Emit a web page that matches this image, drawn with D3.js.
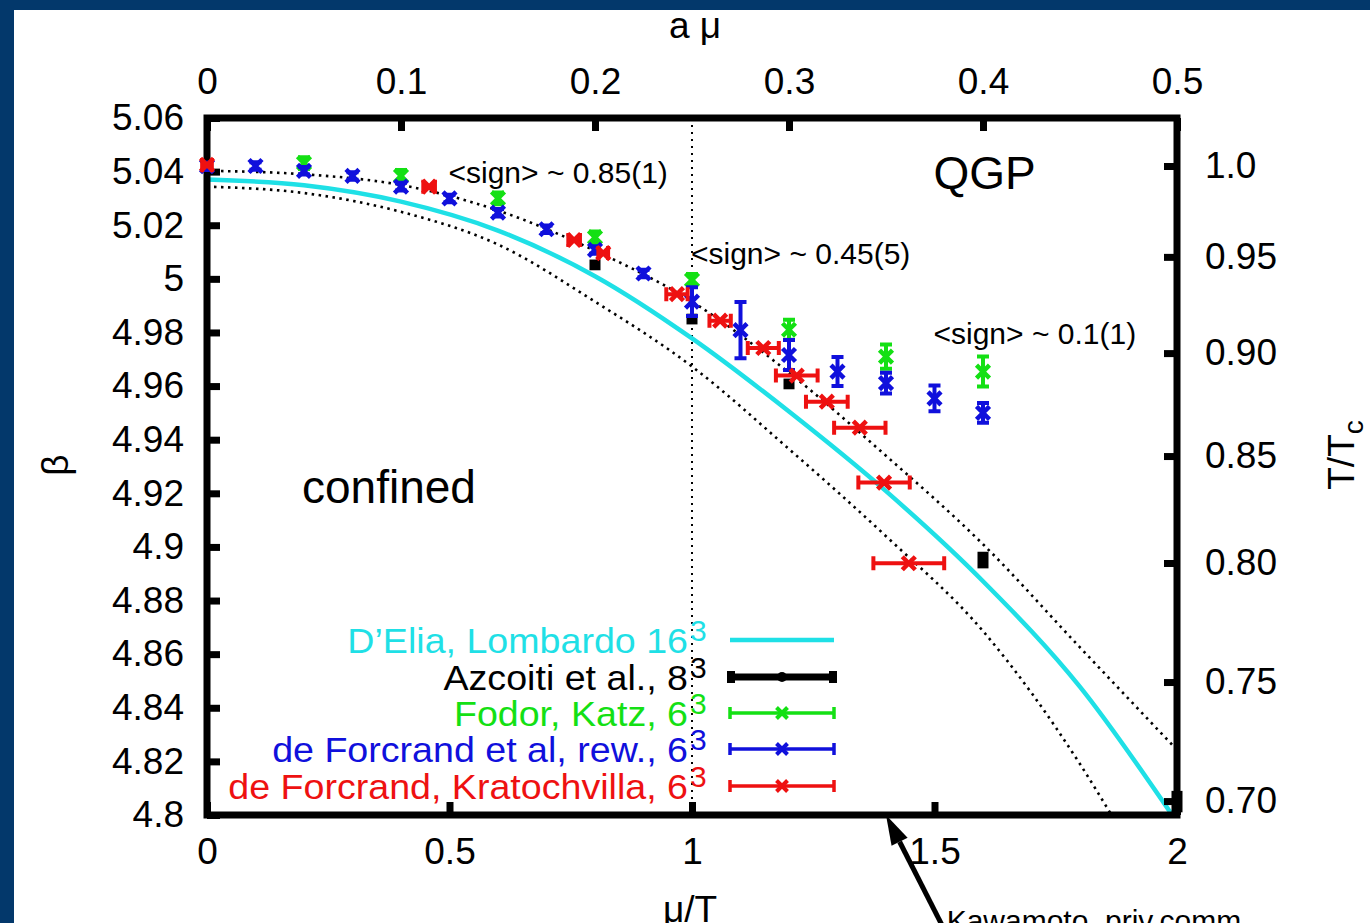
<!DOCTYPE html>
<html><head><meta charset="utf-8">
<script src="https://cdn.jsdelivr.net/npm/d3@7"></script>
<style>
body{margin:0;background:#fff}
svg{display:block}
text{font-family:"Liberation Sans",Arial,Helvetica,sans-serif}
</style>
</head><body>
<svg id="c" width="1370" height="923"></svg>
<script>
// ---------- data ----------
const xTicks = [0, 0.5, 1, 1.5, 2];
const xTickLabels = ["0", "0.5", "1", "1.5", "2"];
const topTicks = [0, 0.1, 0.2, 0.3, 0.4, 0.5];
const topTickLabels = ["0", "0.1", "0.2", "0.3", "0.4", "0.5"];
const yTicks = [5.06, 5.04, 5.02, 5.00, 4.98, 4.96, 4.94, 4.92, 4.90, 4.88, 4.86, 4.84, 4.82, 4.80];
const yTickLabels = ["5.06","5.04","5.02","5","4.98","4.96","4.94","4.92","4.9","4.88","4.86","4.84","4.82","4.8"];
const tTcLabels = ["1.0", "0.95", "0.90", "0.85", "0.80", "0.75", "0.70"];
const tTcBeta = [5.0421, 5.0082, 4.9723, 4.9339, 4.8940, 4.8496, 4.8052];

// D'Elia, Lombardo 16^3 (cyan curve)
const dlMu   = [0, 0.2, 0.4, 0.6, 0.8, 1.0, 1.2, 1.4, 1.6, 1.8, 1.99];
const dlBeta = [5.0371, 5.0349, 5.0288, 5.0180, 5.0010, 4.9778, 4.9505, 4.9208, 4.8872, 4.8478, 4.8000];
// dotted band
const upMu   = [0, 0.2, 0.4, 0.6, 0.8, 1.0, 1.2, 1.4, 1.6, 1.8, 2.0];
const upBeta = [5.0403, 5.0390, 5.0350, 5.0255, 5.0105, 4.9915, 4.9650, 4.9340, 4.9010, 4.8625, 4.8243];
const loMu   = [0, 0.2, 0.4, 0.6, 0.8, 1.0, 1.2, 1.4, 1.6, 1.8, 1.865];
const loBeta = [5.0344, 5.0320, 5.0250, 5.0128, 4.9915, 4.9673, 4.9365, 4.9040, 4.8686, 4.8190, 4.8000];

// Azcoiti et al., 8^3
const azMu   = [0.8, 1.0, 1.2, 1.6, 2.0];
const azBeta = [5.0052, 4.9850, 4.9608, 4.8951, 4.8050];
const azErr  = [0.0020, 0.0020, 0.0020, 0.0031, 0.0040];
// Fodor, Katz, 6^3
const fkMu   = [0.2, 0.4, 0.6, 0.8, 1.0, 1.2, 1.4, 1.6];
const fkBeta = [5.0432, 5.0384, 5.0300, 5.0155, 4.9996, 4.9810, 4.9710, 4.9654];
const fkErr  = [0.0022, 0.0022, 0.0022, 0.0022, 0.0022, 0.0037, 0.0045, 0.0056];
// de Forcrand et al, rew., 6^3
const dfMu   = [0, 0.1, 0.2, 0.3, 0.4, 0.5, 0.6, 0.7, 0.8, 0.9, 1.0, 1.1, 1.2, 1.3, 1.4, 1.5, 1.6];
const dfBeta = [5.0420, 5.0421, 5.0403, 5.0384, 5.0344, 5.0300, 5.0247, 5.0185, 5.0108, 5.0020,
                4.9915, 4.9809, 4.9716, 4.9654, 4.9611, 4.9554, 4.9500];
const dfErr  = [0.0014, 0.0014, 0.0014, 0.0014, 0.0014, 0.0014, 0.0014, 0.0014, 0.0014, 0.0014,
                0.0054, 0.0105, 0.0056, 0.0054, 0.0039, 0.0048, 0.0037];
// de Forcrand, Kratochvila, 6^3 (horizontal errors)
const dkMu   = [0, 0.458, 0.757, 0.817, 0.969, 1.058, 1.147, 1.216, 1.278, 1.346, 1.396, 1.447];
const dkBeta = [5.0425, 5.0344, 5.0145, 5.0096, 4.9943, 4.9844, 4.9742, 4.9639, 4.9542, 4.9445, 4.9240, 4.8939];
const dkErr  = [0.010, 0.012, 0.012, 0.010, 0.022, 0.022, 0.032, 0.043, 0.043, 0.053, 0.053, 0.073];

const legendLabels = ["D\u2019Elia, Lombardo 16", "Azcoiti et al., 8", "Fodor, Katz, 6", "de Forcrand et al, rew., 6", "de Forcrand, Kratochvilla, 6"];
const annotations = ["<sign> ~ 0.85(1)", "<sign> ~ 0.45(5)", "<sign> ~ 0.1(1)"];
const annMu = [0.5, 1.0, 1.5];
const annBeta = [5.0358, 5.0055, 4.9757];

// ---------- colours ----------
const CYAN = "#1fe0e6", BLACK = "#000", GREEN = "#14e014", BLUE = "#1010dc", RED = "#ee1111";

// ---------- setup ----------
const svg = d3.select("#c");
svg.append("rect").attr("width", 1370).attr("height", 923).attr("fill", "#03386b");
svg.append("rect").attr("x", 14).attr("y", 10).attr("width", 1356).attr("height", 913).attr("fill", "#fff");

const x = d3.scaleLinear().domain([0, 2]).range([207, 1177]);
const xTop = d3.scaleLinear().domain([0, 0.5]).range([207, 1177]);
const y = d3.scaleLinear().domain([4.8, 5.06]).range([815, 118]);

svg.append("defs").append("clipPath").attr("id", "clip")
  .append("rect").attr("x", x(0)).attr("y", y(5.06)).attr("width", x(2) - x(0)).attr("height", y(4.8) - y(5.06));

const FS = 37;

// vertical dotted line at mu/T = 1
svg.append("line").attr("x1", x(1)).attr("x2", x(1)).attr("y1", y(5.06)).attr("y2", y(4.8))
  .attr("stroke", "#000").attr("stroke-width", 2).attr("stroke-dasharray", "2,5");

// curves
const plotG = svg.append("g").attr("clip-path", "url(#clip)");
const lineGen = d3.line().x(d => x(d[0])).y(d => y(d[1])).curve(d3.curveMonotoneX);
plotG.append("path").datum(upMu.map((m, i) => [m, upBeta[i]])).attr("d", lineGen)
  .attr("fill", "none").attr("stroke", "#000").attr("stroke-width", 2.6).attr("stroke-dasharray", "2.5,4.5");
plotG.append("path").datum(loMu.map((m, i) => [m, loBeta[i]])).attr("d", lineGen)
  .attr("fill", "none").attr("stroke", "#000").attr("stroke-width", 2.6).attr("stroke-dasharray", "2.5,4.5");
plotG.append("path").datum(dlMu.map((m, i) => [m, dlBeta[i]])).attr("d", lineGen)
  .attr("fill", "none").attr("stroke", CYAN).attr("stroke-width", 4.5);

// ---------- axes ----------
function styleAxis(g) {
  g.select(".domain").remove();
  g.selectAll(".tick line").attr("stroke", "#000").attr("stroke-width", 7);
  g.selectAll(".tick text").attr("font-size", FS).attr("fill", "#000")
    .attr("font-family", "'Liberation Sans', Arial, sans-serif");
}
svg.append("g").attr("transform", `translate(${x(0)},0)`)
  .call(d3.axisLeft(y).tickValues(yTicks).tickFormat((d, i) => yTickLabels[i]).tickSizeInner(-13).tickSizeOuter(0).tickPadding(23))
  .call(styleAxis);
svg.append("g").attr("transform", `translate(${x(2)},0)`)
  .call(d3.axisRight(y).tickValues(tTcBeta).tickFormat((d, i) => tTcLabels[i]).tickSizeInner(-13).tickSizeOuter(0).tickPadding(28))
  .call(styleAxis);
svg.append("g").attr("transform", `translate(0,${y(4.8)})`)
  .call(d3.axisBottom(x).tickValues(xTicks).tickFormat((d, i) => xTickLabels[i]).tickSizeInner(-13).tickSizeOuter(0).tickPadding(23))
  .call(styleAxis);
svg.append("g").attr("transform", `translate(0,${y(5.06)})`)
  .call(d3.axisTop(xTop).tickValues(topTicks).tickFormat((d, i) => topTickLabels[i]).tickSizeInner(-13).tickSizeOuter(0).tickPadding(24))
  .call(styleAxis);

// frame
svg.append("rect").attr("x", x(0)).attr("y", y(5.06)).attr("width", x(2) - x(0)).attr("height", y(4.8) - y(5.06))
  .attr("fill", "none").attr("stroke", "#000").attr("stroke-width", 7);

// ---------- marker helpers ----------
function cross(g, cx, cy, h, color, sw) {
  g.append("path").attr("d", `M${cx - h},${cy - h}L${cx + h},${cy + h}M${cx - h},${cy + h}L${cx + h},${cy - h}`)
    .attr("stroke", color).attr("stroke-width", sw).attr("fill", "none");
}
function yErrBar(g, cx, y1, y2, cap, color, sw) {
  g.append("path").attr("d", `M${cx},${y1}L${cx},${y2}M${cx - cap},${y1}L${cx + cap},${y1}M${cx - cap},${y2}L${cx + cap},${y2}`)
    .attr("stroke", color).attr("stroke-width", sw).attr("fill", "none");
}
function xErrBar(g, cy, x1, x2, cap, color, sw) {
  g.append("path").attr("d", `M${x1},${cy}L${x2},${cy}M${x1},${cy - cap}L${x1},${cy + cap}M${x2},${cy - cap}L${x2},${cy + cap}`)
    .attr("stroke", color).attr("stroke-width", sw).attr("fill", "none");
}

const pts = svg.append("g");
// Azcoiti (black thick bars)
azMu.forEach((m, i) => {
  pts.append("line").attr("x1", x(m)).attr("x2", x(m))
    .attr("y1", y(azBeta[i] + azErr[i])).attr("y2", y(azBeta[i] - azErr[i]))
    .attr("stroke", BLACK).attr("stroke-width", 11);
});
// Fodor-Katz (green)
fkMu.forEach((m, i) => {
  yErrBar(pts, x(m), y(fkBeta[i] + fkErr[i]), y(fkBeta[i] - fkErr[i]), 6, GREEN, 4);
  cross(pts, x(m), y(fkBeta[i]), 6.5, GREEN, 4.5);
});
// de Forcrand et al rew (blue)
dfMu.forEach((m, i) => {
  yErrBar(pts, x(m), y(dfBeta[i] + dfErr[i]), y(dfBeta[i] - dfErr[i]), 6, BLUE, 4);
  cross(pts, x(m), y(dfBeta[i]), 6.5, BLUE, 4.5);
});
// de Forcrand-Kratochvila (red)
dkMu.forEach((m, i) => {
  xErrBar(pts, y(dkBeta[i]), x(m - dkErr[i]), x(m + dkErr[i]), 7, RED, 4);
  cross(pts, x(m), y(dkBeta[i]), 6.5, RED, 4.5);
});

// ---------- texts ----------
annotations.forEach((t, i) => {
  svg.append("text").attr("x", x(annMu[i]) - 1).attr("y", y(annBeta[i])).attr("font-size", 30).text(t);
});
svg.append("text").attr("x", x(1.5) - 1).attr("y", y(5.0335)).attr("font-size", 46).text("QGP");
svg.append("text").attr("x", x(0.2) - 2).attr("y", y(4.9162)).attr("font-size", 46).text("confined");

// axis titles
svg.append("text").attr("x", 695).attr("y", 38).attr("text-anchor", "middle").attr("font-size", FS).text("a \u03bc");
svg.append("text").attr("x", 690).attr("y", 922).attr("text-anchor", "middle").attr("font-size", FS).text("\u03bc/T");
svg.append("text").attr("transform", "translate(68,465) rotate(-90)").attr("text-anchor", "middle").attr("font-size", FS).text("\u03b2");
const tt = svg.append("text").attr("transform", "translate(1354,455) rotate(-90)").attr("text-anchor", "middle").attr("font-size", FS);
tt.append("tspan").text("T/T");
tt.append("tspan").attr("font-size", 28).attr("dy", 9).text("c");

// ---------- legend ----------
const legColors = [CYAN, BLACK, GREEN, BLUE, RED];
const legY = [640, 677, 713, 749, 786];
const lg = svg.append("g");
legendLabels.forEach((t, i) => {
  lg.append("text").attr("transform", `translate(688,${legY[i] + 13}) scale(1.045,1)`).attr("text-anchor", "end")
    .attr("font-size", 36).attr("fill", legColors[i]).text(t);
  lg.append("text").attr("x", 690).attr("y", legY[i] + 1).attr("font-size", 30)
    .attr("fill", legColors[i]).text("3");
});
const sx1 = 730, sx2 = 834, smid = 782;
lg.append("line").attr("x1", sx1).attr("x2", sx2).attr("y1", legY[0]).attr("y2", legY[0]).attr("stroke", CYAN).attr("stroke-width", 4.5);
lg.append("line").attr("x1", sx1).attr("x2", sx2).attr("y1", legY[1]).attr("y2", legY[1]).attr("stroke", BLACK).attr("stroke-width", 7);
lg.append("rect").attr("x", sx1 - 3).attr("y", legY[1] - 6).attr("width", 8).attr("height", 12).attr("fill", BLACK);
lg.append("rect").attr("x", sx2 - 5).attr("y", legY[1] - 6).attr("width", 8).attr("height", 12).attr("fill", BLACK);
lg.append("circle").attr("cx", smid).attr("cy", legY[1]).attr("r", 5).attr("fill", BLACK);
[2, 3, 4].forEach(i => {
  xErrBar(lg, legY[i], sx1, sx2, 6, legColors[i], 3.5);
  cross(lg, smid, legY[i], 5.5, legColors[i], 4);
});

// ---------- Kawamoto arrow ----------
const arrTail = [1.518, 4.758], arrTip = [1.4, 4.8];
const ax1 = x(arrTail[0]), ay1 = y(arrTail[1]), ax2 = x(arrTip[0]), ay2 = y(arrTip[1]);
const ang = Math.atan2(ay2 - ay1, ax2 - ax1);
const hl = 30, hw = 9;
const bx = ax2 - hl * Math.cos(ang), by = ay2 - hl * Math.sin(ang);
svg.append("line").attr("x1", ax1).attr("y1", ay1).attr("x2", bx).attr("y2", by)
  .attr("stroke", "#000").attr("stroke-width", 5);
svg.append("path").attr("d",
  `M${ax2},${ay2}L${bx + hw * Math.sin(ang)},${by - hw * Math.cos(ang)}L${bx - hw * Math.sin(ang)},${by + hw * Math.cos(ang)}Z`)
  .attr("fill", "#000");
svg.append("text").attr("x", x(1.525)).attr("y", 931).attr("font-size", 30).text("Kawamoto, priv.comm.");
</script>
</body></html>
